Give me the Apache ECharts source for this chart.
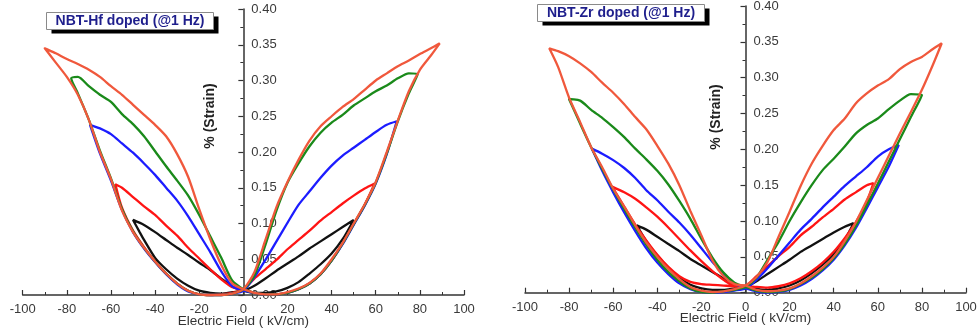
<!DOCTYPE html>
<html><head><meta charset="utf-8">
<script src="https://cdn.jsdelivr.net/npm/echarts@6/dist/echarts.min.js"></script>
<style>html,body{margin:0;padding:0;background:#fff}#c{width:977px;height:334px}</style>
</head><body><div id="c"></div>
<script>
// ---- axis settings ----
const fieldMin = -100, fieldMax = 100, fieldStep = 20;
const strainMin = 0, strainMax = 0.40, strainStep = 0.05;
const panelTitles = ['NBT-Hf doped (@1 Hz)', 'NBT-Zr doped (@1 Hz)'];
const xTitle = 'Electric Field ( kV/cm)';
const yTitle = '% (Strain)';
const amplitudes = ['50 kV/cm', '60 kV/cm', '70 kV/cm', '80 kV/cm', '90 kV/cm'];
const loopColors = ['#111111', '#ff1414', '#1c1cff', '#1a8a1a', '#f0583c'];

// ---- NBT-Hf loops: [field, strain] in loop order ----
const hf50 = [[0,0.006],[5,0.003],[10,0.003],[15,0.005],[20,0.010],[25,0.018],[30,0.030],[35,0.043],[40,0.058],[45,0.078],[50,0.105],
  [45,0.095],[40,0.085],[35,0.075],[30,0.065],[25,0.054],[20,0.044],[15,0.034],[10,0.023],[5,0.013],[0,0.006],
  [-5,0.004],[-10,0.002],[-15,0.003],[-20,0.006],[-25,0.013],[-30,0.023],[-35,0.036],[-40,0.052],[-45,0.077],[-47,0.088],[-50,0.105],
  [-45,0.098],[-40,0.088],[-35,0.077],[-30,0.066],[-25,0.056],[-20,0.045],[-15,0.035],[-10,0.023],[-5,0.012],[0,0.006]];
const hf60 = [[0,0.008],[5,0.003],[10,0.001],[15,0.001],[20,0.003],[25,0.008],[30,0.016],[35,0.029],[40,0.048],[45,0.072],[50,0.099],[55,0.126],[59.5,0.156],
  [55,0.149],[50,0.139],[45,0.128],[40,0.116],[35,0.104],[30,0.090],[25,0.077],[20,0.064],[15,0.049],[10,0.036],[5,0.023],[0,0.008],
  [-5,0.003],[-10,0.001],[-15,0.000],[-20,0.001],[-25,0.006],[-30,0.016],[-35,0.030],[-40,0.047],[-45,0.067],[-50,0.090],[-55,0.122],[-58,0.155],
  [-55,0.150],[-50,0.137],[-45,0.124],[-40,0.112],[-35,0.097],[-30,0.083],[-25,0.066],[-20,0.051],[-15,0.036],[-10,0.022],[-5,0.011],[0,0.008]];
const hf70 = [[0,0.006],[5,0.003],[10,0.001],[15,0.001],[20,0.003],[25,0.008],[30,0.016],[35,0.029],[40,0.048],[45,0.071],[50,0.098],[55,0.125],[60,0.156],[65,0.197],[69.5,0.243],
  [65,0.238],[60,0.228],[55,0.217],[50,0.206],[45,0.195],[40,0.181],[35,0.164],[30,0.145],[25,0.126],[20,0.101],[15,0.075],[10,0.049],[5,0.025],[0,0.006],
  [-5,0.002],[-10,0.000],[-15,0.000],[-20,0.001],[-25,0.005],[-30,0.015],[-35,0.029],[-40,0.046],[-45,0.065],[-50,0.088],[-55,0.119],[-60,0.160],[-65,0.198],[-69.5,0.238],
  [-65,0.233],[-60,0.225],[-55,0.212],[-50,0.199],[-45,0.184],[-40,0.168],[-35,0.150],[-30,0.132],[-25,0.110],[-20,0.085],[-15,0.060],[-10,0.033],[-5,0.012],[0,0.006]];
const hf80 = [[0,0.008],[5,0.003],[10,0.001],[15,0.001],[20,0.003],[25,0.008],[30,0.016],[35,0.029],[40,0.048],[45,0.072],[50,0.099],[55,0.126],[60,0.157],[65,0.198],[70,0.243],[75,0.282],[79,0.309],
  [75,0.310],[70,0.303],[65,0.293],[60,0.285],[55,0.275],[50,0.265],[45,0.252],[40,0.241],[35,0.227],[30,0.208],[25,0.184],[20,0.157],[15,0.118],[10,0.070],[5,0.027],[0,0.008],
  [-5,0.002],[-10,0.000],[-15,0.000],[-20,0.001],[-25,0.006],[-30,0.016],[-35,0.030],[-40,0.047],[-45,0.066],[-50,0.089],[-55,0.120],[-60,0.163],[-65,0.202],[-70,0.245],[-75,0.282],[-78,0.303],
  [-75,0.305],[-70,0.292],[-65,0.280],[-60,0.270],[-55,0.253],[-50,0.239],[-45,0.222],[-40,0.201],[-35,0.180],[-30,0.160],[-25,0.139],[-20,0.112],[-15,0.082],[-10,0.052],[-5,0.020],[0,0.008]];
const hf90 = [[0,0.008],[5,0.003],[10,0.001],[15,0.001],[20,0.004],[25,0.009],[30,0.017],[35,0.030],[40,0.050],[45,0.073],[50,0.100],[55,0.127],[60,0.158],[65,0.200],[70,0.244],[75,0.285],[80,0.315],[85,0.335],[89,0.352],
  [85,0.345],[80,0.337],[75,0.328],[70,0.320],[65,0.310],[60,0.300],[55,0.287],[50,0.274],[45,0.263],[40,0.250],[35,0.236],[30,0.216],[25,0.189],[20,0.158],[15,0.123],[10,0.077],[5,0.032],[0,0.008],
  [-5,0.002],[-10,0.000],[-15,0.000],[-20,0.001],[-25,0.006],[-30,0.016],[-35,0.030],[-40,0.047],[-45,0.066],[-50,0.088],[-55,0.118],[-60,0.162],[-65,0.200],[-70,0.245],[-75,0.280],[-80,0.305],[-85,0.325],[-90,0.345],
  [-85,0.338],[-80,0.330],[-75,0.323],[-70,0.315],[-65,0.305],[-60,0.292],[-55,0.280],[-50,0.266],[-45,0.252],[-40,0.238],[-35,0.222],[-30,0.197],[-25,0.165],[-20,0.120],[-15,0.078],[-10,0.042],[-5,0.016],[0,0.008]];

// ---- NBT-Zr loops ----
const zr50 = [[0,0.008],[5,0.005],[10,0.004],[15,0.006],[20,0.010],[25,0.017],[30,0.027],[35,0.039],[40,0.054],[45,0.074],[49,0.097],
  [45,0.092],[40,0.084],[35,0.075],[30,0.066],[25,0.057],[20,0.046],[15,0.036],[10,0.026],[5,0.016],[0,0.008],
  [-5,0.006],[-10,0.004],[-15,0.004],[-20,0.006],[-25,0.011],[-30,0.021],[-35,0.035],[-40,0.052],[-45,0.072],[-49.3,0.094],
  [-45,0.088],[-40,0.078],[-35,0.068],[-30,0.058],[-25,0.047],[-20,0.038],[-15,0.029],[-10,0.020],[-5,0.012],[0,0.008]];
const zr60 = [[0,0.010],[5,0.008],[10,0.007],[15,0.009],[20,0.013],[25,0.020],[30,0.030],[35,0.042],[40,0.057],[45,0.076],[50,0.098],[55,0.127],[58,0.153],
  [55,0.150],[50,0.140],[45,0.130],[40,0.117],[35,0.105],[30,0.092],[25,0.080],[20,0.064],[15,0.051],[10,0.037],[5,0.023],[0,0.010],
  [-5,0.009],[-10,0.010],[-15,0.011],[-20,0.012],[-25,0.015],[-30,0.023],[-35,0.036],[-40,0.053],[-45,0.073],[-50,0.095],[-55,0.120],[-60.5,0.148],
  [-55,0.140],[-50,0.131],[-45,0.119],[-40,0.106],[-35,0.091],[-30,0.075],[-25,0.059],[-20,0.044],[-15,0.030],[-10,0.018],[-5,0.010],[0,0.010]];
const zr70 = [[0,0.006],[5,0.002],[10,0.000],[15,0.001],[20,0.004],[25,0.010],[30,0.019],[35,0.031],[40,0.046],[45,0.066],[50,0.090],[55,0.118],[60,0.147],[65,0.176],[69.5,0.206],
  [65,0.200],[60,0.190],[55,0.175],[50,0.162],[45,0.149],[40,0.134],[35,0.119],[30,0.103],[25,0.088],[20,0.070],[15,0.052],[10,0.034],[5,0.018],[0,0.006],
  [-5,0.003],[-10,0.001],[-15,0.000],[-20,0.001],[-25,0.005],[-30,0.013],[-35,0.026],[-40,0.042],[-45,0.062],[-50,0.086],[-55,0.112],[-60,0.140],[-65,0.170],[-69.7,0.201],
  [-65,0.194],[-60,0.185],[-55,0.174],[-50,0.160],[-45,0.143],[-40,0.129],[-35,0.113],[-30,0.098],[-25,0.081],[-20,0.062],[-15,0.043],[-10,0.027],[-5,0.013],[0,0.006]];
const zr80 = [[0,0.008],[5,0.003],[10,0.001],[15,0.002],[20,0.005],[25,0.012],[30,0.021],[35,0.033],[40,0.048],[45,0.068],[50,0.093],[55,0.122],[60,0.152],[65,0.183],[70,0.214],[75,0.245],[80,0.276],
  [75,0.277],[70,0.268],[65,0.256],[60,0.243],[55,0.234],[50,0.222],[45,0.204],[40,0.187],[35,0.171],[30,0.150],[25,0.126],[20,0.100],[15,0.071],[10,0.046],[5,0.021],[0,0.008],
  [-5,0.004],[-10,0.002],[-15,0.000],[-20,0.001],[-25,0.006],[-30,0.016],[-35,0.029],[-40,0.046],[-45,0.067],[-50,0.091],[-55,0.117],[-60,0.144],[-65,0.173],[-70,0.203],[-75,0.236],[-80,0.270],
  [-75,0.268],[-70,0.255],[-65,0.244],[-60,0.231],[-55,0.217],[-50,0.201],[-45,0.186],[-40,0.170],[-35,0.151],[-30,0.128],[-25,0.103],[-20,0.075],[-15,0.049],[-10,0.028],[-5,0.014],[0,0.008]];
const zr90 = [[0,0.010],[5,0.004],[10,0.002],[15,0.003],[20,0.006],[25,0.013],[30,0.023],[35,0.035],[40,0.050],[45,0.072],[50,0.098],[55,0.129],[60,0.160],[65,0.191],[70,0.222],[75,0.252],[80,0.283],[85,0.318],[89,0.348],
  [85,0.340],[80,0.329],[75,0.322],[70,0.312],[65,0.298],[60,0.289],[55,0.278],[50,0.264],[45,0.243],[40,0.227],[35,0.205],[30,0.180],[25,0.149],[20,0.113],[15,0.078],[10,0.043],[5,0.022],[0,0.010],
  [-5,0.005],[-10,0.002],[-15,0.001],[-20,0.003],[-25,0.008],[-30,0.019],[-35,0.033],[-40,0.050],[-45,0.070],[-50,0.094],[-55,0.120],[-60,0.145],[-65,0.175],[-70,0.203],[-75,0.238],[-80,0.272],[-85,0.315],[-89,0.341],
  [-85,0.337],[-80,0.330],[-75,0.320],[-70,0.308],[-65,0.293],[-60,0.279],[-55,0.263],[-50,0.245],[-45,0.228],[-40,0.205],[-35,0.180],[-30,0.150],[-25,0.114],[-20,0.080],[-15,0.045],[-10,0.023],[-5,0.012],[0,0.010]];

const hfLoops = [hf50, hf60, hf70, hf80, hf90];
const zrLoops = [zr50, zr60, zr70, zr80, zr90];

const FONT = 'Liberation Sans';
const AX = '#333';
const grids = [
  { left: 22.7, right: 513, top: 9, bottom: 39 },
  { left: 525, right: 11, top: 6, bottom: 41.3 }
];

function xAxisFor(g) {
  return {
    type: 'value', gridIndex: g, min: fieldMin, max: fieldMax, interval: fieldStep,
    axisLine: { show: true, onZero: false, lineStyle: { color: AX, width: 1.5 } },
    axisTick: { show: true, inside: true, length: 5, lineStyle: { color: AX, width: 1.2 } },
    minorTick: { show: true, splitNumber: 2, length: 3, lineStyle: { color: AX, width: 1 } },
    splitLine: { show: false }, minorSplitLine: { show: false },
    axisLabel: { margin: 8, color: '#3a3a3a', fontSize: 13, fontFamily: FONT },
    name: xTitle, nameLocation: 'middle', nameGap: 19, nameMoveOverlap: false,
    nameTextStyle: { color: '#333', fontSize: 13.5, fontFamily: FONT, verticalAlign: 'top' }
  };
}
function yAxisFor(g) {
  // place the vertical axis at field = 0 (middle of the symmetric field range)
  const gr = grids[g];
  const width = 977 - gr.left - gr.right;
  const zeroShift = width * (0 - fieldMin) / (fieldMax - fieldMin);
  return {
    type: 'value', gridIndex: g, min: strainMin, max: strainMax, interval: strainStep,
    position: 'left', offset: -zeroShift,
    axisLine: { show: true, onZero: false, lineStyle: { color: AX, width: 1.5 } },
    axisTick: { show: true, inside: false, length: 5, lineStyle: { color: AX, width: 1.2 } },
    minorTick: { show: true, splitNumber: 2, length: 3, lineStyle: { color: AX, width: 1 } },
    splitLine: { show: false }, minorSplitLine: { show: false },
    axisLabel: { inside: true, margin: 8, color: '#3a3a3a', fontSize: 13, fontFamily: FONT,
      formatter: v => v.toFixed(2) }
  };
}

const series = [];
hfLoops.forEach((d, i) => series.push({
  type: 'line', name: 'Hf ' + amplitudes[i], xAxisIndex: 0, yAxisIndex: 0, data: d,
  showSymbol: false, smooth: 0.25, clip: false, z: 2 + i,
  lineStyle: { width: 2.3, color: loopColors[i] }, itemStyle: { color: loopColors[i] }
}));
zrLoops.forEach((d, i) => series.push({
  type: 'line', name: 'Zr ' + amplitudes[i], xAxisIndex: 1, yAxisIndex: 1, data: d,
  showSymbol: false, smooth: 0.25, clip: false, z: 2 + i,
  lineStyle: { width: 2.3, color: loopColors[i] }, itemStyle: { color: loopColors[i] }
}));

function titleBox(x, y, w, h, text) {
  return { type: 'group', left: x, top: y, children: [
    { type: 'rect', shape: { x: 5, y: 4, width: w, height: h }, style: { fill: '#000' } },
    { type: 'rect', shape: { x: 0, y: 0, width: w, height: h }, style: { fill: '#fff', stroke: '#8a8a8a', lineWidth: 1 } },
    { type: 'text', x: w / 2, y: h / 2 + 0.5, style: { text: text, fill: '#1e1e8c',
      font: 'bold 14px "Liberation Sans"', align: 'center', verticalAlign: 'middle' } }
  ]};
}
function yName(x, y) {
  return { type: 'text', x: x, y: y, rotation: Math.PI / 2,
    style: { text: yTitle, fill: '#222', font: 'bold 14px "Liberation Sans"', align: 'center', verticalAlign: 'middle' } };
}

const chart = echarts.init(document.getElementById('c'), null, { renderer: 'canvas' });
chart.setOption({
  backgroundColor: '#ffffff',
  animation: false,
  grid: grids.map(g => Object.assign({ outerBoundsMode: 'none', containLabel: false }, g)),
  xAxis: [xAxisFor(0), xAxisFor(1)],
  yAxis: [yAxisFor(0), yAxisFor(1)],
  series: series,
  graphic: [
    yName(210, 116), yName(716, 117),
    titleBox(46, 12, 167, 17, panelTitles[0]),
    titleBox(537, 4, 167, 17, panelTitles[1])
  ]
});
</script></body></html>
